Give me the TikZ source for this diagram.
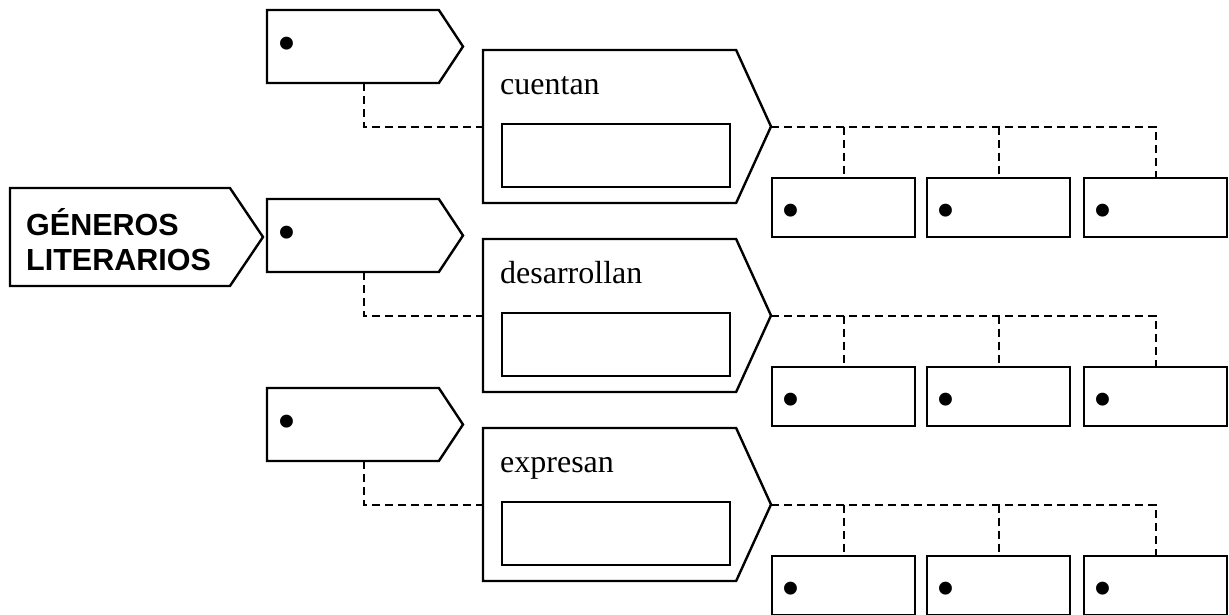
\documentclass[tikz,border=0pt]{standalone}
\usepackage{fontspec}
\setmainfont{Liberation Serif}
\newfontfamily\headfont{Liberation Sans}
\usetikzlibrary{shapes.symbols,positioning}

\begin{document}
\begin{tikzpicture}[x=1pt, y=-1pt, line width=2.4pt,
  tag/.style={signal, signal to=east, draw, inner sep=0pt, outer sep=0pt},
  slot/.style={rectangle, draw, inner sep=0pt, outer sep=0pt},
  link/.style={line width=2pt, dash pattern=on 8pt off 5pt},
  word/.style={inner sep=0pt, font=\fontsize{32}{36}\selectfont},
  bullet/.style={inner sep=0pt, font=\fontsize{54}{54}\selectfont}]
\useasboundingbox (0,0) rectangle (1229,614);

% title tag
\node[tag, minimum width=253pt, minimum height=98pt, signal pointer angle=112,
      anchor=north west] (genre) at (10,188) {};
\node[anchor=west, align=left, inner sep=0pt,
      font=\headfont\bfseries\fontsize{30.5}{35}\selectfont] (genretxt) at (25,240) {GÉNEROS\\LITERARIOS};

\foreach \r/\verb in {0/cuentan,1/desarrollan,2/expresan}{
  \pgfmathsetmacro\dy{189*\r}
  % small tag with bullet
  \node[tag, minimum width=196pt, minimum height=73pt, signal pointer angle=113,
        anchor=north west] (tag\r) at (267,{10+\dy}) {};
  \node[bullet] (tagdot\r) at (287,{49.5+\dy}) {•};
  % big tag with verb and answer box
  \node[tag, minimum width=288pt, minimum height=153pt, signal pointer angle=131,
        anchor=north west] (verb\r) at (483,{50+\dy}) {};
  \node[word, anchor=base west] (verbtxt\r) at (499,{94+\dy}) {\verb};
  \node[slot, minimum width=228pt, minimum height=63pt,
        anchor=north west] (answer\r) at (502,{124+\dy}) {};
  % three item boxes
  \node[slot, minimum width=143pt, minimum height=59pt,
        anchor=north west] (itemA\r) at (772,{178+\dy}) {};
  \node[slot, minimum width=143pt, minimum height=59pt,
        anchor=north west] (itemB\r) at (927,{178+\dy}) {};
  \node[slot, minimum width=143pt, minimum height=59pt,
        anchor=north west] (itemC\r) at (1084,{178+\dy}) {};
  \foreach \k in {A,B,C}
    \node[bullet] at ([xshift=19pt, yshift=-8.5pt]item\k\r.west) {•};
  % connectors
  \draw[link] ([xshift=11pt]tag\r.south) |- (verb\r.west);
  \draw[link] (verb\r.east) -| (itemC\r.north);
  \draw[link] (itemA\r.north |- verb\r.east) -- (itemA\r.north);
  \draw[link] (itemB\r.north |- verb\r.east) -- (itemB\r.north);
}

\end{tikzpicture}
\end{document}
